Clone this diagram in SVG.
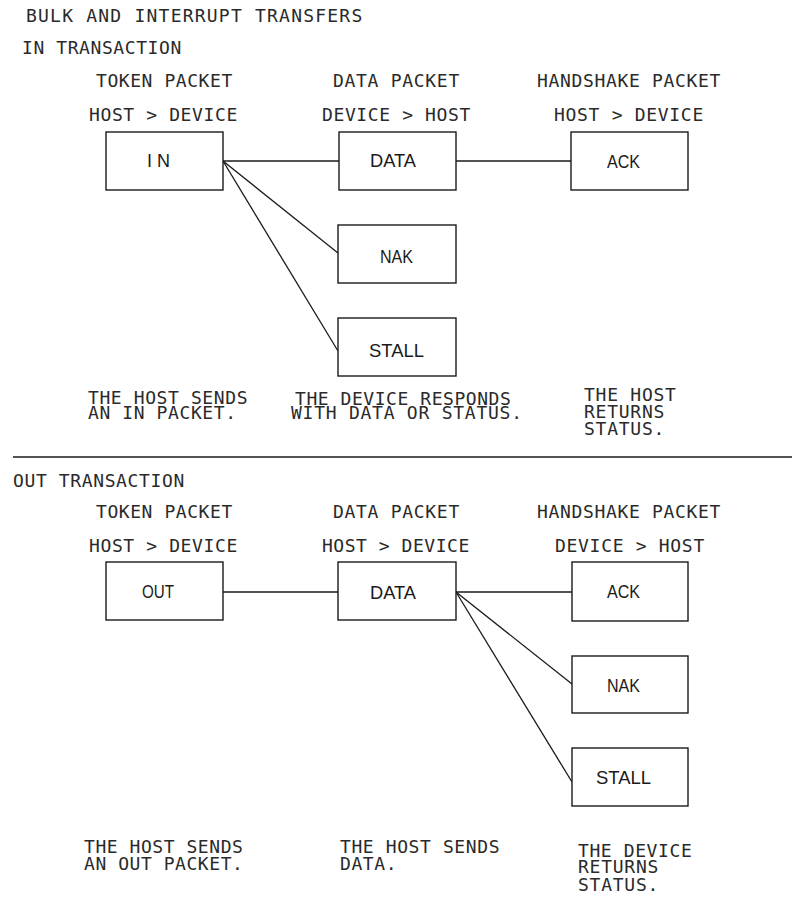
<svg xmlns="http://www.w3.org/2000/svg" width="808" height="903" viewBox="0 0 808 903">
<style>
text{font-family:"DejaVu Sans Mono","Liberation Mono",monospace;font-size:18px;letter-spacing:0.75px;fill:#2a2a2a;}
.lbl{font-family:"Liberation Sans",Arial,sans-serif;font-size:18px;letter-spacing:0;fill:#1a1a1a;}
.box{fill:#fff;stroke:#1a1a1a;stroke-width:1.4;}
.con line{stroke:#1a1a1a;stroke-width:1.3;}
.div{stroke:#1a1a1a;stroke-width:1.5;}
</style>
<rect width="808" height="903" fill="#fff"/>
<text x="26" y="22" textLength="337" lengthAdjust="spacing">BULK AND INTERRUPT TRANSFERS</text>
<text x="22" y="54" textLength="160" lengthAdjust="spacing">IN TRANSACTION</text>
<text x="96" y="87" textLength="137" lengthAdjust="spacing">TOKEN PACKET</text>
<text x="89" y="121" textLength="149" lengthAdjust="spacing">HOST &gt; DEVICE</text>
<text x="333" y="87" textLength="127" lengthAdjust="spacing">DATA PACKET</text>
<text x="322" y="121" textLength="149" lengthAdjust="spacing">DEVICE &gt; HOST</text>
<text x="537" y="87" textLength="184" lengthAdjust="spacing">HANDSHAKE PACKET</text>
<text x="554" y="121" textLength="150" lengthAdjust="spacing">HOST &gt; DEVICE</text>
<g class="con" id="connectors">
<line x1="223" y1="161" x2="339" y2="161"/>
<line x1="456" y1="161" x2="571" y2="161"/>
<line x1="223" y1="161" x2="338" y2="253"/>
<line x1="223" y1="161" x2="338" y2="351"/>
<line x1="223" y1="592" x2="338" y2="592"/>
<line x1="456" y1="592" x2="572" y2="592"/>
<line x1="456" y1="592" x2="572" y2="684"/>
<line x1="456" y1="592" x2="572" y2="782"/>
</g>
<g id="in-in"><rect class="box" x="106" y="132" width="117" height="58"/><text class="lbl" x="147" y="167" textLength="23" lengthAdjust="spacing">IN</text></g>
<g id="in-data"><rect class="box" x="339" y="132" width="117" height="58"/><text class="lbl" x="370" y="167" textLength="46" lengthAdjust="spacingAndGlyphs">DATA</text></g>
<g id="in-ack"><rect class="box" x="571" y="132" width="117" height="58"/><text class="lbl" x="607" y="168" textLength="33" lengthAdjust="spacingAndGlyphs">ACK</text></g>
<g id="in-nak"><rect class="box" x="338" y="225" width="118" height="58"/><text class="lbl" x="380" y="263" textLength="33" lengthAdjust="spacingAndGlyphs">NAK</text></g>
<g id="in-stall"><rect class="box" x="338" y="318" width="118" height="58"/><text class="lbl" x="369" y="357" textLength="55" lengthAdjust="spacingAndGlyphs">STALL</text></g>
<text x="88" y="404"><tspan x="88" letter-spacing="0.6">THE HOST SENDS</tspan><tspan x="88" dy="15" letter-spacing="0.6">AN IN PACKET.</tspan></text>
<text x="295" y="405"><tspan x="295" letter-spacing="0.55">THE DEVICE RESPONDS</tspan><tspan x="291" dy="14" letter-spacing="0.75">WITH DATA OR STATUS.</tspan></text>
<text x="584" y="401"><tspan x="584">THE HOST</tspan><tspan x="584" dy="17">RETURNS</tspan><tspan x="584" dy="17">STATUS.</tspan></text>
<line class="div" x1="13" y1="457" x2="792" y2="457"/>
<text x="13" y="487" textLength="172" lengthAdjust="spacing">OUT TRANSACTION</text>
<text x="96" y="518" textLength="137" lengthAdjust="spacing">TOKEN PACKET</text>
<text x="89" y="552" textLength="149" lengthAdjust="spacing">HOST &gt; DEVICE</text>
<text x="333" y="518" textLength="127" lengthAdjust="spacing">DATA PACKET</text>
<text x="322" y="552" textLength="148" lengthAdjust="spacing">HOST &gt; DEVICE</text>
<text x="537" y="518" textLength="184" lengthAdjust="spacing">HANDSHAKE PACKET</text>
<text x="555" y="552" textLength="150" lengthAdjust="spacing">DEVICE &gt; HOST</text>
<g id="out-out"><rect class="box" x="106" y="562" width="117" height="58"/><text class="lbl" x="142" y="598" textLength="32" lengthAdjust="spacingAndGlyphs">OUT</text></g>
<g id="out-data"><rect class="box" x="338" y="562" width="118" height="58"/><text class="lbl" x="370" y="599" textLength="46" lengthAdjust="spacingAndGlyphs">DATA</text></g>
<g id="out-ack"><rect class="box" x="572" y="562" width="116" height="59"/><text class="lbl" x="607" y="598" textLength="33" lengthAdjust="spacingAndGlyphs">ACK</text></g>
<g id="out-nak"><rect class="box" x="572" y="656" width="116" height="57"/><text class="lbl" x="607" y="692" textLength="33" lengthAdjust="spacingAndGlyphs">NAK</text></g>
<g id="out-stall"><rect class="box" x="572" y="748" width="116" height="58"/><text class="lbl" x="596" y="784" textLength="55" lengthAdjust="spacingAndGlyphs">STALL</text></g>
<text x="84" y="853"><tspan x="84" letter-spacing="0.55">THE HOST SENDS</tspan><tspan x="84" dy="17" letter-spacing="0.55">AN OUT PACKET.</tspan></text>
<text x="340" y="853"><tspan x="340" letter-spacing="0.6">THE HOST SENDS</tspan><tspan x="340" dy="17" letter-spacing="0.6">DATA.</tspan></text>
<text x="578" y="857"><tspan x="578" letter-spacing="0.6">THE DEVICE</tspan><tspan x="578" dy="16">RETURNS</tspan><tspan x="578" dy="18">STATUS.</tspan></text>
</svg>
